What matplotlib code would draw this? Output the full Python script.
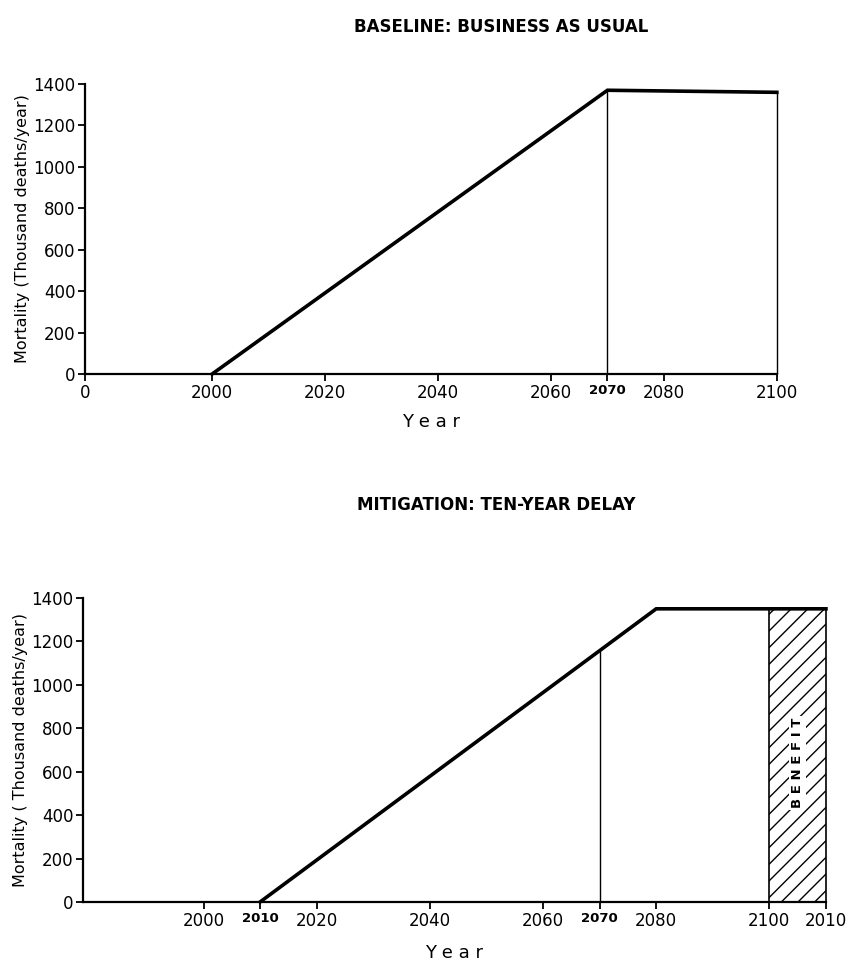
import matplotlib.pyplot as plt

# baseline: business as usual
base_years = [2000, 2070, 2100]
base_mort = [0, 1370, 1360]

# mitigation: ten-year delay
mit_years = [2010, 2080, 2110]
mit_mort = [0, 1350, 1350]
mit_at_2070 = 1165

y_ticks = [0, 200, 400, 600, 800, 1000, 1200, 1400]

top_ticks = [1977.5, 2000, 2020, 2040, 2060, 2070, 2080, 2100]
top_labels = ["0", "2000", "2020", "2040", "2060", "2070", "2080", "2100"]

bot_ticks = [2000, 2010, 2020, 2040, 2060, 2070, 2080, 2100, 2110]
bot_labels = ["2000", "2010", "2020", "2040", "2060", "2070", "2080", "2100", "2010"]
small = ["2010", "2070"]

plt.rcParams['font.family'] = 'DejaVu Sans'
plt.rcParams['hatch.linewidth'] = 1.0

fig = plt.figure(figsize=(8.52, 9.66), dpi=100)
ax1 = fig.add_axes([0.0998, 0.6128, 0.812, 0.3002])
ax2 = fig.add_axes([0.0974, 0.0663, 0.872, 0.3147])


def style(ax, ticks, labels, ylabel):
    for s in ["top", "right"]:
        ax.spines[s].set_visible(False)
    for s in ["left", "bottom"]:
        ax.spines[s].set_linewidth(1.6)
    ax.set_ylim(0, 1400)
    ax.set_yticks(y_ticks)
    ax.set_yticklabels([str(v) for v in y_ticks], fontsize=12)
    ax.set_xticks(ticks)
    ax.set_xticklabels(labels, fontsize=12)
    for t in ax.get_xticklabels():
        if t.get_text() in small and t.get_position()[0] < 2100:
            t.set_fontsize(9.5)
            t.set_fontweight("bold")
    ax.tick_params(axis="both", direction="out", length=5, width=1.3, pad=2)
    ax.set_ylabel(ylabel, fontsize=11.5, labelpad=2)


# top panel
ax1.plot(base_years, base_mort, color="black", lw=2.6, solid_joinstyle="miter", clip_on=False)
ax1.vlines([2070, 2100], 0, [base_mort[1], base_mort[2]], color="black", lw=1.0, clip_on=False)
ax1.set_xlim(1977.5, 2100)
style(ax1, top_ticks, top_labels, "Mortality (Thousand deaths/year)")
ax1.set_xlabel("Y e a r", fontsize=13, labelpad=8)
fig.text(0.588, 0.972, "BASELINE: BUSINESS AS USUAL", fontsize=12, fontweight="heavy",
         ha="center", va="center")

# bottom panel
ax2.plot(mit_years, mit_mort, color="black", lw=2.6, solid_joinstyle="miter", clip_on=False)
ax2.vlines(2070, 0, mit_at_2070, color="black", lw=1.0)
ax2.fill_between([2100, 2110], 0, mit_mort[2], facecolor="white", edgecolor="black",
                 hatch="//", lw=1.2, clip_on=False)
ax2.text(2105, 640, "B E N E F I T", rotation=90, ha="center", va="center", fontsize=9.5,
         fontweight="bold", bbox=dict(facecolor="white", edgecolor="none", pad=1.5))
ax2.set_xlim(1978.7, 2110)
style(ax2, bot_ticks, bot_labels, "Mortality ( Thousand deaths/year)")
ax2.set_xlabel("Y e a r", fontsize=13, labelpad=10)
fig.text(0.583, 0.477, "MITIGATION: TEN-YEAR DELAY", fontsize=12, fontweight="heavy",
         ha="center", va="center")

fig.savefig("out.png", dpi=100)
